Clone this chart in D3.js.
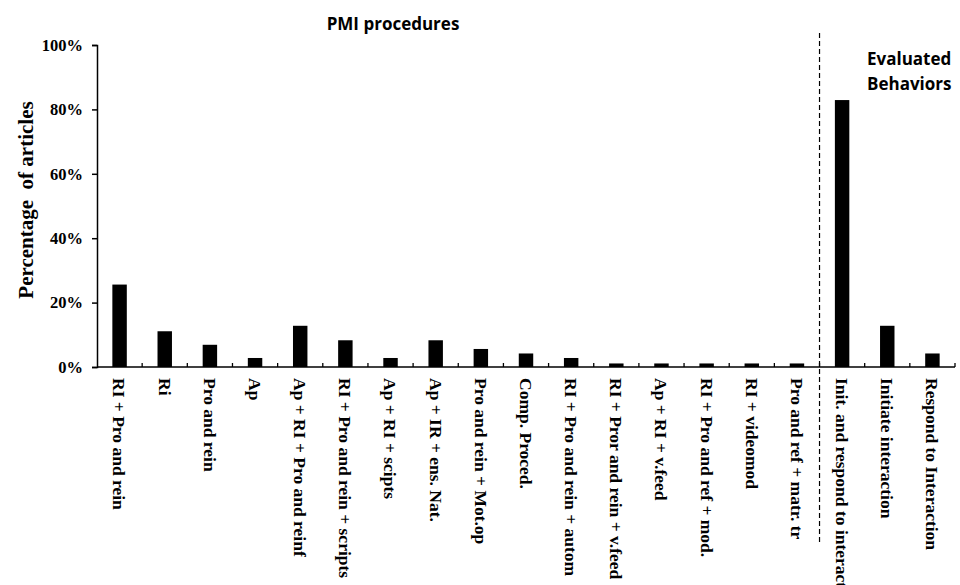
<!DOCTYPE html>
<html>
<head>
<meta charset="utf-8">
<script src="https://cdn.jsdelivr.net/npm/d3@7"></script>
<style>
  body { margin: 0; background: #fff; }
  svg { display: block; }
</style>
</head>
<body>
<svg id="chart"></svg>
<script>
// ───────────────── DATA ─────────────────
const categories = [
  "RI + Pro and rein",
  "Ri",
  "Pro and rein",
  "Ap",
  "Ap + RI + Pro and reinf",
  "RI + Pro and rein + scripts",
  "Ap + RI + scipts",
  "Ap + IR + ens. Nat.",
  "Pro and rein + Mot.op",
  "Comp. Proced.",
  "RI + Pro and rein + autom",
  "RI + Pror and rein + v.feed",
  "Ap + RI + v.feed",
  "RI + Pro and ref + mod.",
  "RI + videomod",
  "Pro and ref + matr. tr",
  "Init. and respond to interaction",
  "Initiate interaction",
  "Respond to Interaction"
];

const values = [25.6, 11.1, 6.9, 2.8, 12.8, 8.3, 2.8, 8.3, 5.6, 4.2, 2.8, 1.1, 1.1, 1.1, 1.1, 1.1, 82.9, 12.8, 4.2];

const yTicks = [0, 20, 40, 60, 80, 100];

// index of first "evaluated behaviors" category
const splitIndex = 16;

// ───────────────── SIZE ─────────────────
const W = 960;
const H = 585;

const margin = { top: 45, right: 5, bottom: 218, left: 97 };

const innerW = W - margin.left - margin.right;
const innerH = H - margin.top - margin.bottom;

const svg = d3.select("#chart")
  .attr("width", W)
  .attr("height", H)
  .attr("viewBox", `0 0 ${W} ${H}`);

const g = svg.append("g")
  .attr("transform", `translate(${margin.left},${margin.top})`);

// ───── SCALE ─────
const x = d3.scaleBand()
  .domain(categories)
  .range([0, innerW])
  .paddingInner(0.68)
  .paddingOuter(0.34);

const xEdge = d3.scaleLinear()
  .domain([0, categories.length])
  .range([0, innerW]);

const y = d3.scaleLinear()
  .domain([0, 100])
  .range([innerH, 0]);

const serif = "'Liberation Serif', 'Times New Roman', serif";
const sans = "'Open Sans', 'Noto Sans', sans-serif";

// ───── BARS ─────
g.selectAll(".bar")
  .data(values)
  .join("rect")
  .attr("class", "bar")
  .attr("x", (d, i) => x(categories[i]))
  .attr("width", x.bandwidth())
  .attr("y", d => y(d))
  .attr("height", d => innerH - y(d))
  .attr("fill", "#000");

// ───── Y AXIS ─────
const yAxis = g.append("g")
  .call(
    d3.axisLeft(y)
      .tickValues(yTicks)
      .tickSize(5)
      .tickPadding(9)
      .tickFormat(d => d + "%")
  );

yAxis.selectAll("line,path")
  .attr("stroke", "#000")
  .attr("stroke-width", 1.5);

yAxis.selectAll("text")
  .attr("fill", "#000")
  .style("font-family", serif)
  .style("font-weight", "700")
  .style("font-size", "16.5px");

// ───── X AXIS ─────
const xAxis = g.append("g")
  .attr("transform", `translate(0,${innerH})`);

xAxis.append("line")
  .attr("x1", 0)
  .attr("x2", innerW)
  .attr("y1", 0)
  .attr("y2", 0)
  .attr("stroke", "#000")
  .attr("stroke-width", 1.5);

xAxis.selectAll(".xtick")
  .data(d3.range(1, categories.length + 1))
  .join("line")
  .attr("class", "xtick")
  .attr("x1", d => xEdge(d))
  .attr("x2", d => xEdge(d))
  .attr("y1", 0)
  .attr("y2", -4)
  .attr("stroke", "#000")
  .attr("stroke-width", 1.3);

// the last long label runs past the bottom edge, as in the source figure
xAxis.selectAll(".xlabel")
  .data(categories)
  .join("text")
  .attr("class", "xlabel")
  .attr("transform", d => `translate(${x(d) + x.bandwidth() / 2},11) rotate(90)`)
  .attr("dy", "0.35em")
  .attr("text-anchor", "start")
  .attr("fill", "#000")
  .style("font-family", serif)
  .style("font-weight", "700")
  .style("font-size", "17.5px")
  .text(d => d);

// ───── SEPARATOR ─────
g.append("line")
  .attr("x1", xEdge(splitIndex))
  .attr("x2", xEdge(splitIndex))
  .attr("y1", -12)
  .attr("y2", innerH + 175)
  .attr("stroke", "#000")
  .attr("stroke-width", 1.2)
  .attr("stroke-dasharray", "5,3");

// ───── LABELS ─────
g.append("text")
  .attr("transform", `translate(-64,${innerH / 2 - 6}) rotate(-90)`)
  .attr("text-anchor", "middle")
  .attr("fill", "#000")
  .style("font-family", serif)
  .style("font-weight", "700")
  .style("font-size", "21px")
  .style("white-space", "pre")
  .text("Percentage  of articles");

svg.append("text")
  .attr("x", 393)
  .attr("y", 30)
  .attr("text-anchor", "middle")
  .attr("fill", "#000")
  .style("font-family", sans)
  .style("font-weight", "700")
  .style("font-size", "17px")
  .text("PMI procedures");

const evalLabel = svg.append("text")
  .attr("x", 867)
  .attr("y", 65)
  .attr("fill", "#000")
  .style("font-family", sans)
  .style("font-weight", "700")
  .style("font-size", "17px");

evalLabel.append("tspan").attr("x", 867).text("Evaluated");
evalLabel.append("tspan").attr("x", 867).attr("dy", 25).text("Behaviors");
</script>
</body>
</html>
